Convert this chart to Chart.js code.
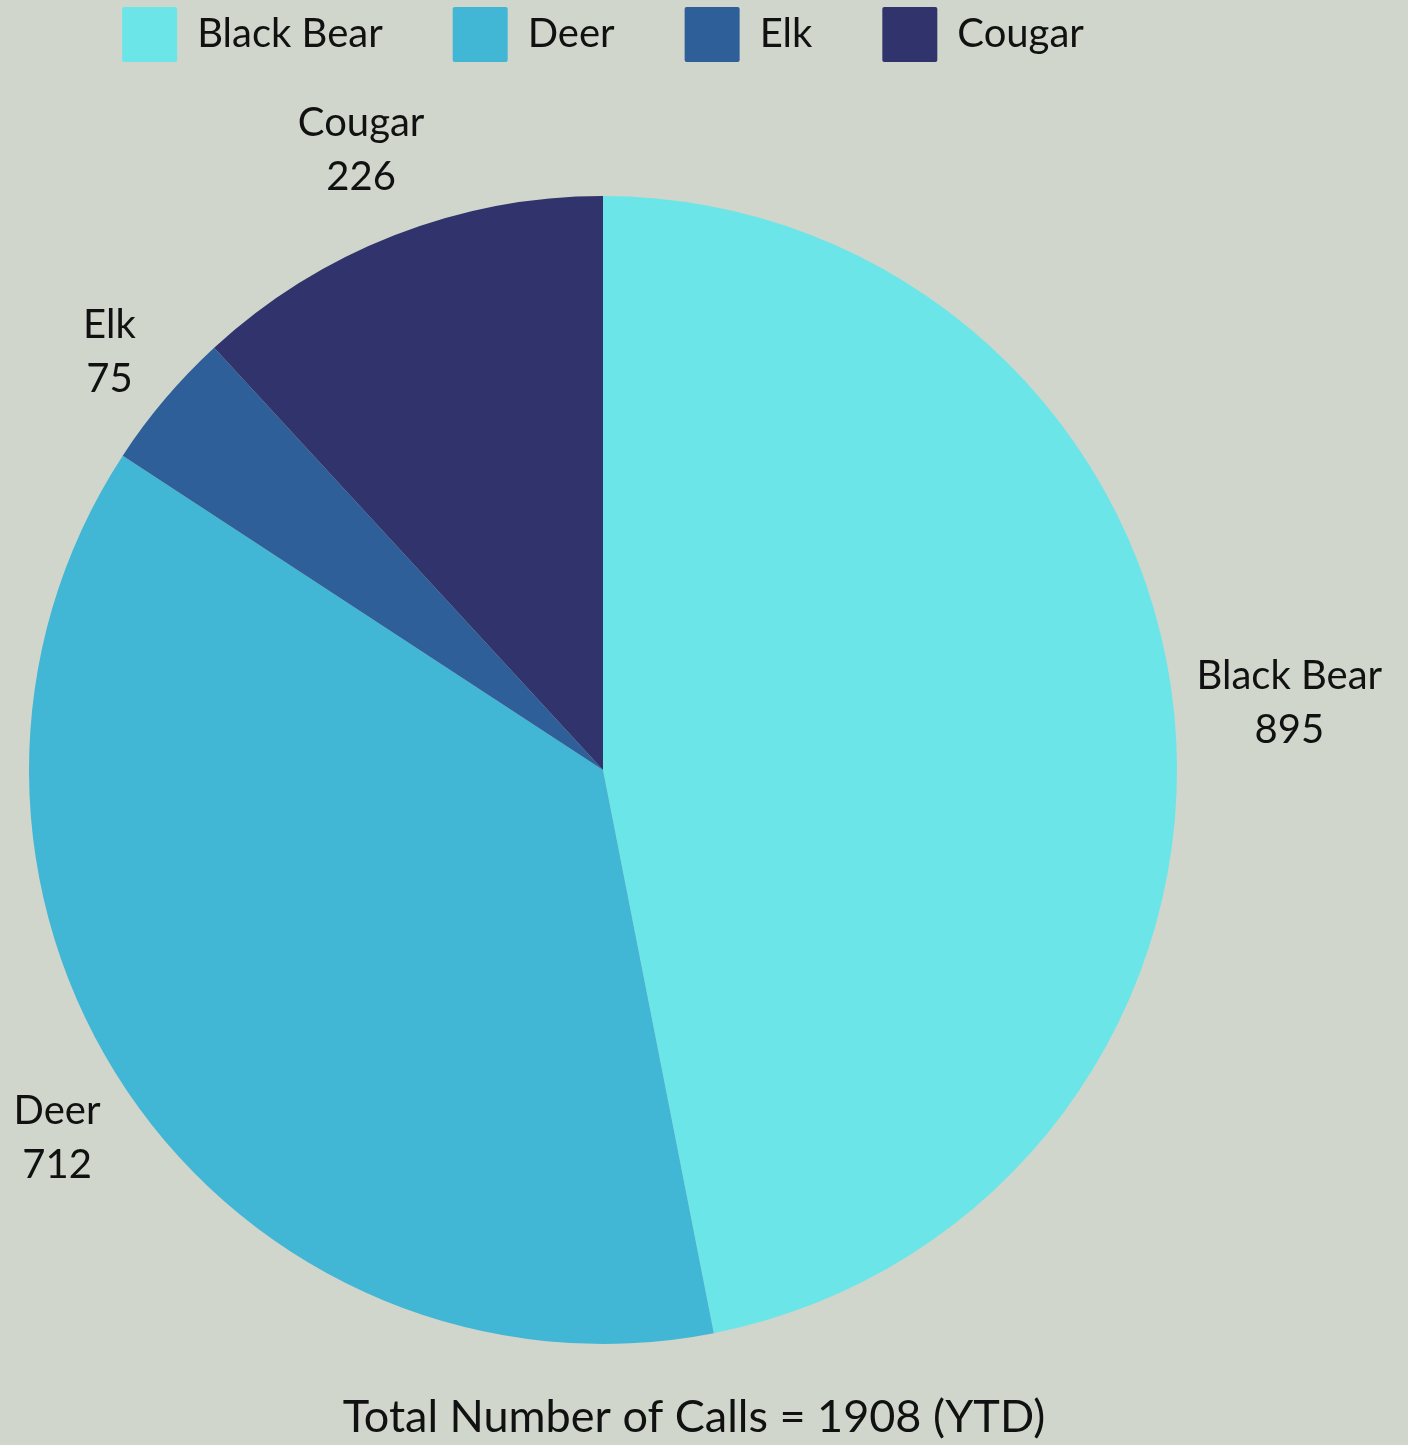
<!DOCTYPE html>
<html>
<head>
<meta charset="utf-8">
<title>Wildlife Calls</title>
<script src="https://cdn.jsdelivr.net/npm/chart.js@4.4.1/dist/chart.umd.min.js"></script>
<style>
    html, body { margin: 0; padding: 0; background: #d0d6cb; }
    canvas { display: block; }
</style>
</head>
<body>
<canvas id="chart" width="1408" height="1445"></canvas>
<script>
var animals = ['Black Bear', 'Deer', 'Elk', 'Cougar'];
var calls = [895, 712, 75, 226];
var sliceColors = ['#6ce5e8', '#42b6d5', '#2e5f99', '#31346c'];
var titleText = 'Total Number of Calls = 1908 (YTD)';

var textColor = '#111111';
var fontFamily = 'Lato, "Noto Sans", sans-serif';

// push the pie down a bit below the legend
var legendGap = {
    id: 'legendGap',
    beforeInit: function(chart) {
        var fit = chart.legend.fit;
        chart.legend.fit = function() {
            fit.bind(chart.legend)();
            this.height += 23;
        };
    }
};

// "name / value" labels outside each slice
var outsideLabels = {
    id: 'outsideLabels',
    afterDatasetsDraw: function(chart) {
        var ctx = chart.ctx;
        var meta = chart.getDatasetMeta(0);
        var lineH = 54;
        ctx.save();
        ctx.font = '40px ' + fontFamily;
        ctx.fillStyle = textColor;
        ctx.textAlign = 'center';
        ctx.textBaseline = 'middle';
        meta.data.forEach(function(arc, i) {
            var p = arc.getProps(['x', 'y', 'startAngle', 'endAngle', 'outerRadius'], true);
            var mid = (p.startAngle + p.endAngle) / 2;
            var lines = [chart.data.labels[i], String(chart.data.datasets[0].data[i])];
            var w = Math.max.apply(null, lines.map(function(l) { return ctx.measureText(l).width; }));
            var h = lines.length * lineH;
            var cx = Math.cos(mid), cy = Math.sin(mid);
            var d = p.outerRadius + 18 + Math.abs(cx) * w / 2 + Math.abs(cy) * h / 2;
            var x = p.x + cx * d;
            var y = p.y + cy * d - h / 2 + lineH / 2;
            lines.forEach(function(l, k) {
                ctx.fillText(l, x, y + k * lineH);
            });
        });
        ctx.restore();
    }
};

// title centred on the page under the pie
var bottomTitle = {
    id: 'bottomTitle',
    afterDraw: function(chart) {
        var ctx = chart.ctx;
        ctx.save();
        ctx.font = '45px ' + fontFamily;
        ctx.fillStyle = textColor;
        ctx.textAlign = 'center';
        ctx.textBaseline = 'alphabetic';
        ctx.fillText(titleText, chart.width / 2 - 10, chart.height - 13);
        ctx.restore();
    }
};

window.onload = function() {
    var ctx = document.getElementById('chart').getContext('2d');
    var myChart = new Chart(ctx, {
        type: 'pie',
        data: {
            labels: animals,
            datasets: [{
                data: calls,
                backgroundColor: sliceColors,
                borderWidth: 0
            }]
        },
        options: {
            responsive: false,
            devicePixelRatio: 1,
            animation: false,
            layout: {
                padding: { top: -63, left: 29, right: 231, bottom: 0 }
            },
            plugins: {
                legend: {
                    position: 'top',
                    labels: {
                        boxWidth: 55,
                        boxHeight: 55,
                        padding: 70,
                        useBorderRadius: true,
                        borderRadius: 2,
                        color: textColor,
                        font: { family: fontFamily, size: 40 }
                    }
                },
                title: { display: false },
                tooltip: { enabled: false }
            }
        },
        plugins: [legendGap, outsideLabels, bottomTitle]
    });
};
</script>
</body>
</html>
